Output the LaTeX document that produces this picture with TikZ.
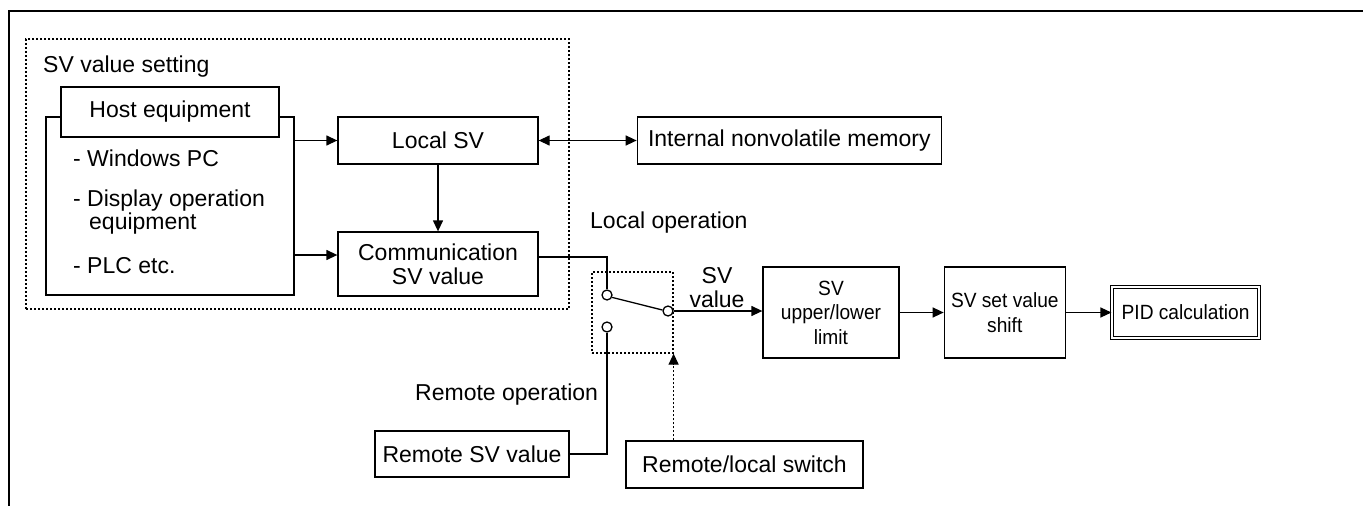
\documentclass[tikz,border=0pt]{standalone}
\usepackage{fontspec}
\setmainfont{Liberation Sans}
\usetikzlibrary{arrows.meta,positioning}

\begin{document}
\begin{tikzpicture}[x=1pt, y=-1pt, >={Triangle[length=11pt,width=10pt]},
  every node/.style={font=\fontsize{23}{24}\selectfont, align=center, inner sep=0pt},
  blk/.style={draw, line width=1.3pt},
  small/.style={font=\fontsize{20.6}{24.5}\selectfont\addfontfeature{FakeStretch=0.93}},
  grp/.style={draw, line width=1.2pt, dash pattern=on 2pt off 2pt},
  lbl/.style={anchor=base west},
  contact/.style={draw, circle, line width=1.3pt, minimum size=10pt, fill=white}]
\useasboundingbox (0,0) rectangle (1363,506);
\draw[line width=2.2pt] (9,11) rectangle (1400,540);

% SV value setting group
\node[grp, minimum width=543pt, minimum height=270pt] (setbox) at (297.5,174) {};
\node[lbl] (settitle) at (43,72) {SV value setting};
\node[draw, line width=2.4pt, minimum width=248pt, minimum height=178pt] (hostbox) at (170,206) {};
\node[draw, line width=2.4pt, fill=white, minimum width=218pt, minimum height=50pt] (hosthdr) at (170,112) {Host equipment};
\node[lbl] (itpc) at (73,166) {- Windows PC};
\node[lbl] (itdisp) at (73,206) {- Display operation};
\node[lbl] (itdisp2) at (89,229) {equipment};
\node[lbl] (itplc) at (73,273) {- PLC etc.};
\node[blk, minimum width=200pt, minimum height=47pt] (lsv) at (438,140.5) {Local SV};
\node[blk, minimum width=200pt, minimum height=64pt] (comm) at (438,264) {Communication\\SV value};
\node[blk, minimum width=304pt, minimum height=47pt, right=98pt of lsv] (mem) {Internal nonvolatile memory};

% switch
\node[grp, minimum width=81pt, minimum height=81pt] (swbox) at (632.5,312.5) {};
\node[contact] (ctop) at (607,295) {};
\node[contact] (cbot) at (607,327) {};
\node[contact] (cout) at (668,311) {};
\node[lbl] (locop) at (590,228) {Local operation};
\node[lbl] (remop) at (415,400) {Remote operation};
\node (svval) at (717,288) {SV\\value};
\node[blk, minimum width=194pt, minimum height=46pt] (rsv) at (472,454) {Remote SV value};
\node[blk, minimum width=237pt, minimum height=47pt] (rls) at (744.5,464.5) {Remote/local switch};

% output chain
\node[blk, small, minimum width=136pt, minimum height=91pt] (lim) at (831,312.5) {SV\\upper/lower\\limit};
\node[blk, small, minimum width=121pt, minimum height=91pt, right=44pt of lim] (shift) {SV set value\\shift};
\node[draw, small, line width=1.2pt, double, double distance=2pt, minimum width=147pt, minimum height=51pt, right=45.5pt of shift] (pid) {PID calculation};

\coordinate (cin) at ([yshift=9pt]comm.west);
\draw[->, line width=1.3pt] (hostbox.east |- lsv.west) -- (lsv.west);
\draw[->, line width=1.3pt] (hostbox.east |- cin) -- (cin);
\draw[->, line width=1.3pt] (lsv) -- (comm);
\draw[<->, line width=1.3pt] (lsv) -- (mem);
\draw[line width=1.3pt] ([yshift=7pt]comm.east) -| (ctop.north);
\draw[line width=1.3pt] (rsv.east) -| (cbot.south);
\draw[line width=1.3pt] (ctop.-25) -- (cout.170);
\draw[->, line width=1.3pt] (cout.east) -- (lim.west |- cout.east);
\draw[->, line width=1.2pt, dash pattern=on 2pt off 2pt] (rls.north -| swbox.south east) -- (swbox.south east);
\draw[->, line width=1.3pt] (lim) -- (shift);
\draw[->, line width=1.3pt] (shift) -- (pid);
\end{tikzpicture}
\end{document}
